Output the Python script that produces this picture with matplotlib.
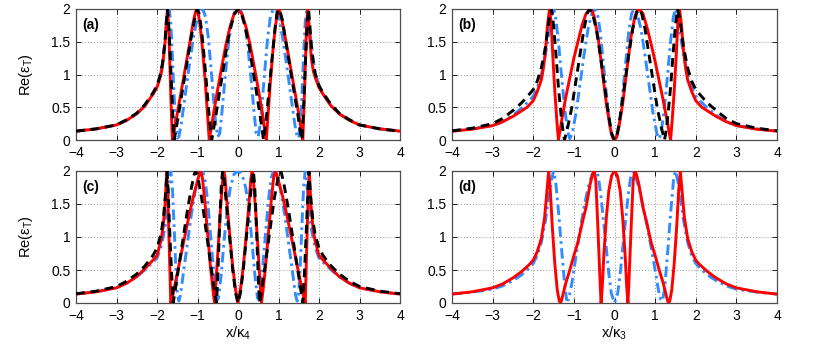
import matplotlib
matplotlib.use("Agg")
import matplotlib.pyplot as plt

plt.rcParams['font.family'] = ['Liberation Sans', 'DejaVu Sans']
plt.rcParams['mathtext.fontset'] = 'custom'
plt.rcParams['mathtext.rm'] = 'Liberation Sans'
plt.rcParams['mathtext.it'] = 'Liberation Sans:italic'

# ---------------- data ----------------
x_ticks = [-4, -3, -2, -1, 0, 1, 2, 3, 4]
y_ticks = [0, 0.5, 1, 1.5, 2]
y_tick_labels = ["0", "0.5", "1", "1.5", "2"]
panel_labels = ["(a)", "(b)", "(c)", "(d)"]
x_labels = ["", "", "x/κ$_4$", "x/κ$_3$"]
y_label = "Re(ε$_\\mathrm{T}$)"

# panel (a)
a_red_x = [-4.0, -3.5, -3.0, -2.75, -2.5, -2.3, -2.1, -2.0, -1.9, -1.85, -1.8, -1.77, -1.74, -1.71, -1.68, -1.65, -1.62,
           -1.58, -1.5, -1.4, -1.3, -1.2, -1.12, -1.06, -1.02, -0.98, -0.93, -0.87, -0.81, -0.76, -0.73, -0.71,
           -0.67, -0.6, -0.5, -0.4, -0.3, -0.2, -0.1, 0.0,
           0.1, 0.2, 0.3, 0.4, 0.5, 0.6, 0.66, 0.70, 0.72, 0.75, 0.8, 0.86, 0.92, 0.97, 1.01, 1.05, 1.11, 1.2,
           1.3, 1.4, 1.5, 1.56, 1.60, 1.63, 1.66, 1.69, 1.72, 1.75, 1.78, 1.81, 1.86, 1.91, 2.0, 2.1, 2.3, 2.5,
           2.75, 3.0, 3.5, 4.0]
a_red_y = [0.135, 0.17, 0.23, 0.3, 0.4, 0.52, 0.7, 0.8, 1.0, 1.2, 1.5, 1.8, 2.0, 1.7, 1.1, 0.5, 0.0,
           0.12, 0.4, 0.75, 1.1, 1.45, 1.75, 1.93, 2.0, 1.93, 1.72, 1.35, 0.9, 0.45, 0.18, 0.0,
           0.15, 0.42, 0.78, 1.12, 1.45, 1.72, 1.92, 2.0,
           1.92, 1.72, 1.45, 1.12, 0.78, 0.42, 0.15, 0.0, 0.18, 0.45, 0.9, 1.35, 1.72, 1.93, 2.0, 1.93, 1.75, 1.45,
           1.1, 0.75, 0.4, 0.15, 0.0, 0.5, 1.1, 1.7, 2.0, 1.8, 1.5, 1.25, 1.05, 0.95, 0.8, 0.7, 0.52, 0.4,
           0.3, 0.23, 0.17, 0.135]

a_black_x = [-4.0, -3.5, -3.0, -2.75, -2.5, -2.3, -2.1, -2.0, -1.9, -1.85, -1.8, -1.77, -1.74, -1.7, -1.66, -1.62, -1.58,
             -1.54, -1.46, -1.36, -1.26, -1.16, -1.08, -1.03, -1.0, -0.96, -0.9, -0.84, -0.77, -0.71, -0.67, -0.65,
             -0.61, -0.54, -0.45, -0.36, -0.27, -0.18, -0.09, 0.0,
             0.09, 0.18, 0.27, 0.36, 0.45, 0.54, 0.6, 0.63, 0.66, 0.71, 0.78, 0.85, 0.91, 0.96, 1.0, 1.04, 1.1,
             1.18, 1.28, 1.38, 1.48, 1.54, 1.58, 1.62, 1.66, 1.7, 1.74, 1.77, 1.8, 1.85, 1.9, 2.0, 2.1, 2.3, 2.5,
             2.75, 3.0, 3.5, 4.0]
a_black_y = [0.135, 0.17, 0.23, 0.31, 0.41, 0.54, 0.72, 0.83, 1.03, 1.23, 1.52, 1.8, 2.0, 1.65, 1.1, 0.5, 0.0,
             0.12, 0.42, 0.8, 1.18, 1.55, 1.82, 1.96, 2.0, 1.93, 1.68, 1.3, 0.8, 0.35, 0.12, 0.0,
             0.14, 0.4, 0.75, 1.1, 1.45, 1.72, 1.92, 2.0,
             1.92, 1.72, 1.45, 1.1, 0.75, 0.4, 0.14, 0.0, 0.12, 0.4, 0.85, 1.3, 1.68, 1.92, 2.0, 1.96, 1.82,
             1.5, 1.12, 0.75, 0.38, 0.12, 0.0, 0.5, 1.1, 1.65, 2.0, 1.8, 1.52, 1.23, 1.03, 0.83, 0.72, 0.54, 0.41,
             0.31, 0.23, 0.17, 0.135]

a_blue_x = [-4.0, -3.5, -3.0, -2.75, -2.5, -2.3, -2.1, -2.0, -1.9, -1.84, -1.78, -1.74, -1.7, -1.66, -1.62, -1.58, -1.54,
            -1.5, -1.46, -1.4, -1.3, -1.2, -1.1, -1.0, -0.94, -0.87, -0.8, -0.73, -0.66, -0.6, -0.55, -0.5,
            -0.45, -0.4, -0.32, -0.24, -0.16, -0.08, 0.0,
            0.08, 0.16, 0.24, 0.32, 0.4, 0.45, 0.5, 0.55, 0.6, 0.66, 0.73, 0.8, 0.87, 0.94, 1.0, 1.1, 1.2, 1.3,
            1.4, 1.46, 1.5, 1.54, 1.58, 1.62, 1.66, 1.7, 1.74, 1.78, 1.84, 1.9, 2.0, 2.1, 2.3, 2.5, 2.75, 3.0, 3.5, 4.0]
a_blue_y = [0.135, 0.17, 0.23, 0.3, 0.4, 0.52, 0.7, 0.82, 1.05, 1.3, 1.62, 1.88, 2.0, 1.8, 1.3, 0.7, 0.25,
            0.03, 0.05, 0.25, 0.7, 1.15, 1.57, 1.88, 1.98, 2.0, 1.88, 1.55, 1.05, 0.6, 0.25, 0.05,
            0.1, 0.4, 0.95, 1.45, 1.8, 1.96, 2.0,
            1.96, 1.8, 1.45, 0.95, 0.4, 0.1, 0.05, 0.25, 0.6, 1.05, 1.55, 1.88, 2.0, 1.98, 1.88, 1.57, 1.15, 0.7,
            0.25, 0.05, 0.03, 0.25, 0.7, 1.3, 1.8, 2.0, 1.88, 1.62, 1.3, 1.05, 0.82, 0.7, 0.52, 0.4, 0.3, 0.23, 0.17, 0.135]

# panel (b)
b_red_x = [-4.0, -3.5, -3.0, -2.75, -2.5, -2.3, -2.15, -2.0, -1.9, -1.8, -1.75, -1.7, -1.65, -1.6, -1.56, -1.52, -1.47,
           -1.42, -1.38, -1.3, -1.2, -1.1, -1.0, -0.9, -0.8, -0.7, -0.6, -0.55, -0.5, -0.4, -0.3, -0.2, -0.1,
           -0.05, 0.0, 0.05, 0.1, 0.2, 0.3, 0.4, 0.5, 0.55, 0.6, 0.7, 0.8, 0.9, 1.0, 1.1, 1.2, 1.3, 1.35, 1.38,
           1.42, 1.47, 1.52, 1.56, 1.6, 1.65, 1.7, 1.75, 1.8, 1.9, 2.0, 2.15, 2.3, 2.5, 2.75, 3.0, 3.5, 4.0]
b_red_y = [0.135, 0.165, 0.22, 0.28, 0.36, 0.44, 0.5, 0.6, 0.74, 0.92, 1.1, 1.35, 1.75, 2.0, 1.8, 1.3, 0.75,
           0.3, 0.0, 0.3, 0.65, 0.95, 1.25, 1.5, 1.75, 1.93, 2.0, 1.97, 1.88, 1.55, 1.05, 0.55, 0.17,
           0.04, 0.0, 0.04, 0.17, 0.55, 1.05, 1.55, 1.88, 1.97, 2.0, 1.93, 1.72, 1.47, 1.2, 0.9, 0.6, 0.28, 0.1, 0.0,
           0.3, 0.75, 1.3, 1.8, 2.0, 1.75, 1.35, 1.1, 0.92, 0.74, 0.6, 0.5, 0.44, 0.36, 0.28, 0.22, 0.165, 0.135]

b_black_x = [-4.0, -3.5, -3.0, -2.75, -2.5, -2.3, -2.15, -2.0, -1.9, -1.8, -1.7, -1.65, -1.6, -1.55, -1.5, -1.44, -1.38,
             -1.31, -1.26, -1.23, -1.15, -1.05, -0.95, -0.85, -0.75, -0.67, -0.62, -0.55, -0.45, -0.35, -0.25,
             -0.15, -0.07, 0.0, 0.07, 0.15, 0.25, 0.35, 0.45, 0.55, 0.62, 0.67, 0.75, 0.85, 0.95, 1.05, 1.15, 1.23,
             1.26, 1.31, 1.38, 1.44, 1.5, 1.55, 1.6, 1.65, 1.7, 1.8, 1.9, 2.0, 2.15, 2.3, 2.5, 2.75, 3.0, 3.5, 4.0]
b_black_y = [0.14, 0.18, 0.25, 0.33, 0.45, 0.56, 0.66, 0.77, 0.9, 1.1, 1.42, 1.65, 1.88, 2.0, 1.75, 1.3, 0.8,
             0.35, 0.1, 0.0, 0.2, 0.5, 0.9, 1.3, 1.7, 1.93, 2.0, 1.95, 1.7, 1.3, 0.85,
             0.4, 0.1, 0.0, 0.1, 0.4, 0.85, 1.3, 1.7, 1.95, 2.0, 1.93, 1.7, 1.3, 0.9, 0.5, 0.2, 0.0,
             0.1, 0.35, 0.8, 1.3, 1.75, 2.0, 1.88, 1.65, 1.42, 1.1, 0.9, 0.77, 0.66, 0.56, 0.45, 0.33, 0.25, 0.18, 0.14]

b_blue_x = [-4.0, -3.5, -3.0, -2.75, -2.5, -2.3, -2.1, -2.0, -1.9, -1.8, -1.7, -1.62, -1.56, -1.5, -1.45, -1.38, -1.3,
            -1.22, -1.15, -1.1, -1.05, -0.95, -0.85, -0.75, -0.65, -0.55, -0.48, -0.42, -0.35, -0.27, -0.2,
            -0.13, -0.07, 0.0, 0.07, 0.13, 0.2, 0.27, 0.35, 0.42, 0.48, 0.55, 0.65, 0.75, 0.85, 0.95, 1.05, 1.1,
            1.15, 1.22, 1.3, 1.38, 1.45, 1.5, 1.56, 1.62, 1.7, 1.8, 1.9, 2.0, 2.1, 2.3, 2.5, 2.75, 3.0, 3.5, 4.0]
b_blue_y = [0.135, 0.17, 0.22, 0.28, 0.38, 0.48, 0.6, 0.67, 0.8, 1.0, 1.3, 1.62, 1.88, 2.0, 1.88, 1.5, 0.95,
            0.45, 0.12, 0.02, 0.08, 0.4, 0.85, 1.3, 1.7, 1.95, 2.0, 1.93, 1.65, 1.15, 0.7,
            0.3, 0.08, 0.0, 0.08, 0.3, 0.7, 1.15, 1.65, 1.93, 2.0, 1.95, 1.7, 1.3, 0.85, 0.4, 0.08, 0.02,
            0.12, 0.45, 0.95, 1.5, 1.88, 2.0, 1.88, 1.62, 1.3, 1.0, 0.8, 0.67, 0.6, 0.48, 0.38, 0.28, 0.22, 0.17, 0.135]

# panel (c)
c_red_x = [-4.0, -3.5, -3.0, -2.75, -2.5, -2.3, -2.1, -2.0, -1.9, -1.85, -1.8, -1.76, -1.73, -1.7, -1.68, -1.66,
           -1.6, -1.5, -1.4, -1.3, -1.2, -1.1, -1.0, -0.95, -0.92, -0.88, -0.82, -0.75, -0.68, -0.62, -0.58,
           -0.54, -0.49, -0.44, -0.4, -0.37, -0.35, -0.32, -0.27, -0.2, -0.13, -0.06, 0.0,
           0.06, 0.13, 0.2, 0.27, 0.32, 0.35, 0.37, 0.4, 0.44, 0.49, 0.54, 0.58, 0.62, 0.68, 0.75, 0.82, 0.88,
           0.92, 0.95, 1.0, 1.1, 1.2, 1.3, 1.4, 1.5, 1.6, 1.66, 1.68, 1.7, 1.73, 1.76, 1.8, 1.85, 1.9, 2.0, 2.1,
           2.3, 2.5, 2.75, 3.0, 3.5, 4.0]
c_red_y = [0.135, 0.17, 0.23, 0.3, 0.4, 0.52, 0.65, 0.72, 0.95, 1.15, 1.5, 2.0, 1.6, 0.9, 0.45, 0.0,
           0.15, 0.45, 0.75, 1.05, 1.35, 1.62, 1.85, 1.96, 2.0, 1.9, 1.55, 1.05, 0.55, 0.2, 0.0,
           0.35, 0.85, 1.35, 1.7, 1.92, 2.0, 1.9, 1.5, 1.0, 0.55, 0.2, 0.0,
           0.2, 0.55, 1.0, 1.5, 1.9, 2.0, 1.92, 1.7, 1.35, 0.85, 0.35, 0.0, 0.2, 0.55, 1.05, 1.55, 1.9,
           2.0, 1.96, 1.85, 1.62, 1.35, 1.05, 0.75, 0.45, 0.15, 0.0, 0.45, 0.9, 1.6, 2.0, 1.5, 1.15, 0.95, 0.72, 0.65,
           0.52, 0.4, 0.3, 0.23, 0.17, 0.135]

c_black_x = [-4.0, -3.5, -3.0, -2.75, -2.5, -2.3, -2.1, -2.0, -1.9, -1.84, -1.79, -1.75, -1.72, -1.68, -1.64, -1.6,
             -1.55, -1.45, -1.35, -1.25, -1.15, -1.08, -1.05, -1.0, -0.9, -0.8, -0.7, -0.62, -0.56, -0.53,
             -0.5, -0.47, -0.44, -0.41, -0.38, -0.34, -0.28, -0.2, -0.13, -0.06, 0.0,
             0.06, 0.13, 0.2, 0.28, 0.34, 0.38, 0.41, 0.44, 0.47, 0.5, 0.53, 0.56, 0.62, 0.7, 0.8, 0.9, 1.0,
             1.05, 1.08, 1.15, 1.25, 1.35, 1.45, 1.55, 1.6, 1.64, 1.68, 1.72, 1.75, 1.79, 1.84, 1.9, 2.0, 2.1,
             2.3, 2.5, 2.75, 3.0, 3.5, 4.0]
c_black_y = [0.14, 0.18, 0.25, 0.33, 0.44, 0.56, 0.72, 0.83, 1.05, 1.3, 1.65, 2.0, 1.6, 1.0, 0.45, 0.0,
             0.2, 0.6, 1.0, 1.4, 1.75, 1.95, 2.0, 1.93, 1.6, 1.15, 0.7, 0.35, 0.1, 0.0,
             0.4, 0.9, 1.4, 1.8, 2.0, 1.85, 1.45, 0.95, 0.5, 0.15, 0.0,
             0.15, 0.5, 0.95, 1.45, 1.85, 2.0, 1.8, 1.4, 0.9, 0.4, 0.0, 0.1, 0.35, 0.7, 1.15, 1.6, 1.93,
             2.0, 1.95, 1.75, 1.4, 1.0, 0.6, 0.2, 0.0, 0.45, 1.0, 1.6, 2.0, 1.65, 1.3, 1.05, 0.83, 0.72,
             0.56, 0.44, 0.33, 0.25, 0.18, 0.14]

c_blue_x = [-4.0, -3.5, -3.0, -2.75, -2.5, -2.3, -2.1, -2.0, -1.9, -1.8, -1.74, -1.7, -1.66, -1.62, -1.58, -1.54, -1.5,
            -1.46, -1.42, -1.35, -1.25, -1.15, -1.05, -0.95, -0.88, -0.82, -0.75, -0.68, -0.61, -0.56, -0.52,
            -0.48, -0.42, -0.35, -0.27, -0.19, -0.1, 0.0,
            0.1, 0.19, 0.27, 0.35, 0.42, 0.48, 0.52, 0.56, 0.61, 0.68, 0.75, 0.82, 0.88, 0.95, 1.05, 1.15, 1.25,
            1.35, 1.42, 1.46, 1.5, 1.54, 1.58, 1.62, 1.66, 1.7, 1.74, 1.8, 1.9, 2.0, 2.1, 2.3, 2.5, 2.75, 3.0, 3.5, 4.0]
c_blue_y = [0.135, 0.17, 0.23, 0.3, 0.4, 0.5, 0.62, 0.68, 0.85, 1.15, 1.5, 1.8, 2.0, 1.75, 1.2, 0.6, 0.15,
            0.03, 0.12, 0.45, 0.9, 1.35, 1.72, 1.95, 2.0, 1.9, 1.55, 1.05, 0.55, 0.2, 0.04,
            0.08, 0.4, 0.9, 1.4, 1.75, 1.95, 2.0,
            1.95, 1.75, 1.4, 0.9, 0.4, 0.08, 0.04, 0.2, 0.55, 1.05, 1.55, 1.9, 2.0, 1.95, 1.72, 1.35, 0.9,
            0.45, 0.12, 0.03, 0.15, 0.6, 1.2, 1.75, 2.0, 1.8, 1.5, 1.15, 0.85, 0.68, 0.62, 0.5, 0.4, 0.3, 0.23, 0.17, 0.135]

# panel (d)
d_red_x = [-4.0, -3.5, -3.0, -2.75, -2.5, -2.3, -2.1, -2.0, -1.9, -1.8, -1.72, -1.67, -1.62, -1.58, -1.53, -1.47,
           -1.41, -1.36, -1.33, -1.3, -1.2, -1.1, -1.0, -0.9, -0.8, -0.7, -0.6, -0.54, -0.5, -0.46, -0.42,
           -0.38, -0.35, -0.33, -0.3, -0.26, -0.2, -0.14, -0.07, 0.0,
           0.07, 0.14, 0.2, 0.26, 0.3, 0.33, 0.35, 0.38, 0.42, 0.46, 0.5, 0.54, 0.6, 0.7, 0.8, 0.9, 1.0, 1.1,
           1.2, 1.3, 1.33, 1.36, 1.41, 1.47, 1.53, 1.58, 1.62, 1.67, 1.72, 1.8, 1.9, 2.0, 2.1, 2.3, 2.5, 2.75,
           3.0, 3.5, 4.0]
d_red_y = [0.135, 0.17, 0.23, 0.29, 0.38, 0.47, 0.58, 0.65, 0.78, 0.98, 1.3, 1.65, 2.0, 1.7, 1.15, 0.6,
           0.2, 0.03, 0.0, 0.05, 0.3, 0.5, 0.72, 0.92, 1.2, 1.45, 1.8, 1.95, 2.0, 1.85, 1.3,
           0.7, 0.25, 0.0, 0.25, 0.75, 1.3, 1.7, 1.93, 2.0,
           1.93, 1.7, 1.3, 0.75, 0.25, 0.0, 0.25, 0.7, 1.3, 1.85, 2.0, 1.95, 1.8, 1.45, 1.2, 0.92, 0.72, 0.5,
           0.3, 0.05, 0.0, 0.03, 0.2, 0.6, 1.15, 1.7, 2.0, 1.65, 1.3, 0.98, 0.78, 0.65, 0.58, 0.47, 0.38, 0.29,
           0.23, 0.17, 0.135]

d_blue_x = [-4.0, -3.5, -3.0, -2.75, -2.5, -2.3, -2.1, -2.0, -1.9, -1.8, -1.7, -1.62, -1.56, -1.5, -1.45, -1.38, -1.3,
            -1.23, -1.18, -1.13, -1.05, -0.95, -0.85, -0.75, -0.65, -0.55, -0.45, -0.4, -0.34, -0.28, -0.22,
            -0.15, -0.08, 0.0, 0.08, 0.15, 0.22, 0.28, 0.34, 0.4, 0.45, 0.5, 0.6, 0.7, 0.8, 0.9, 1.0, 1.08, 1.14,
            1.18, 1.23, 1.3, 1.38, 1.45, 1.5, 1.56, 1.62, 1.7, 1.8, 1.9, 2.0, 2.1, 2.3, 2.5, 2.75, 3.0, 3.5, 4.0]
d_blue_y = [0.135, 0.165, 0.21, 0.26, 0.34, 0.42, 0.53, 0.6, 0.72, 0.92, 1.25, 1.6, 1.85, 2.0, 1.85, 1.4, 0.8,
            0.3, 0.05, 0.05, 0.3, 0.7, 1.1, 1.45, 1.75, 1.95, 2.0, 1.92, 1.65, 1.3, 0.95,
            0.5, 0.15, 0.0, 0.15, 0.5, 0.95, 1.3, 1.65, 1.92, 2.0, 1.95, 1.75, 1.48, 1.18, 0.85, 0.5, 0.2, 0.05,
            0.03, 0.2, 0.7, 1.35, 1.85, 2.0, 1.85, 1.6, 1.25, 0.92, 0.72, 0.6, 0.53, 0.42, 0.34, 0.26, 0.21, 0.165, 0.135]

panels = [
    [(a_red_x, a_red_y, 'red'), (a_blue_x, a_blue_y, 'blue'), (a_black_x, a_black_y, 'black')],
    [(b_red_x, b_red_y, 'red'), (b_blue_x, b_blue_y, 'blue'), (b_black_x, b_black_y, 'black')],
    [(c_red_x, c_red_y, 'red'), (c_blue_x, c_blue_y, 'blue'), (c_black_x, c_black_y, 'black')],
    [(d_blue_x, d_blue_y, 'blue'), (d_red_x, d_red_y, 'red')],
]

# ---------------- styling ----------------
styles = {
    'red': dict(color=(1.0, 0.0, 0.0), lw=2.1, ls='-', zorder=4),
    'black': dict(color='black', lw=2.1, ls=(0, (3.0, 2.0)), zorder=5),
    'blue': dict(color=(0.2, 0.55, 1.0), lw=2.1, ls=(0, (3.6, 1.5, 0.9, 1.5)), zorder=3),
}

W, H = 830, 346
fig = plt.figure(figsize=(W / 100, H / 100), dpi=100)
boxes = [(76, 9, 400, 140), (452, 9, 777, 140), (76, 171, 400, 303), (452, 171, 777, 303)]

for i, (l, t, r, b) in enumerate(boxes):
    ax = fig.add_axes([l / W, 1 - b / H, (r - l) / W, (b - t) / H])
    for xs, ys, key in panels[i]:
        ax.plot(xs, ys, **styles[key])
    ax.set_xlim(-4, 4)
    ax.set_ylim(0, 2)
    ax.set_xticks(x_ticks)
    ax.set_yticks(y_ticks)
    ax.set_yticklabels(y_tick_labels)
    ax.tick_params(direction='in', top=True, right=True, length=3.5, width=0.6,
                   labelsize=10, colors='black')
    ax.tick_params(axis='x', pad=4)
    ax.tick_params(axis='y', pad=4)
    ax.grid(True, color='0.45', ls=(0, (1, 2.5)), lw=0.6)
    for s in ax.spines.values():
        s.set_color('0.3')
        s.set_linewidth(0.9)
    ax.text(-3.84, 1.76, panel_labels[i], fontsize=10, fontweight='bold', ha='left', va='center', zorder=6)
    if i in (0, 2):
        ax.set_ylabel(y_label, fontsize=10.5)
        ax.yaxis.set_label_coords(-0.125, 0.5)
    if x_labels[i]:
        ax.set_xlabel(x_labels[i], fontsize=10.5, labelpad=0)
        ax.xaxis.set_label_coords(0.5, -0.165)

fig.savefig("out.png", dpi=100)
